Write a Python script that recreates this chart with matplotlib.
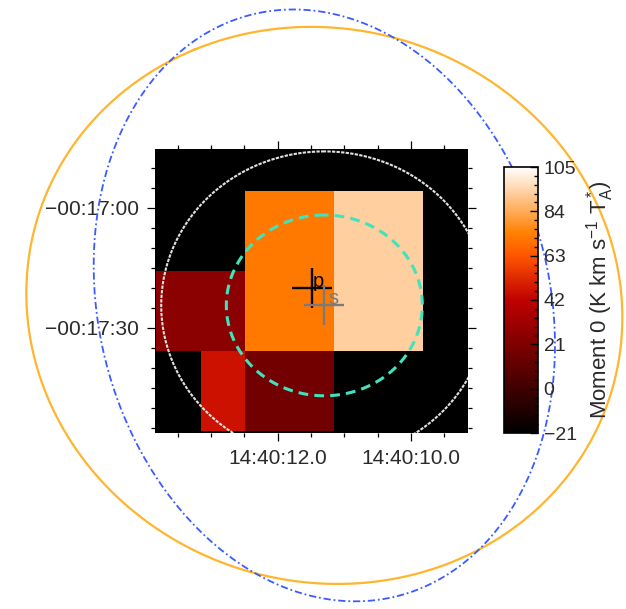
import numpy as np
import matplotlib
matplotlib.use("Agg")
import matplotlib.pyplot as plt
from matplotlib.colors import Normalize
from matplotlib.ticker import FixedLocator, MultipleLocator, FuncFormatter

plt.rcParams['font.family'] = ['Liberation Sans', 'DejaVu Sans']
plt.rcParams['mathtext.fontset'] = 'custom'
plt.rcParams['mathtext.rm'] = 'Liberation Sans'
plt.rcParams['mathtext.it'] = 'Liberation Sans:italic'
plt.rcParams['mathtext.default'] = 'regular'
plt.rcParams['axes.unicode_minus'] = True

# ---------------------------------------------------------------
# Moment-0 map: 10" cells, RA in seconds past 14h40m, Dec in arcsec
# ---------------------------------------------------------------
RA_FIRST_EDGE_S = 14.49        # east edge of first column
DEC_FIRST_EDGE_AS = -995.8     # north edge of first row
CELL_AS = 10.0

nan = np.nan
moment0 = np.array([
    [nan, nan, nan, nan, nan, nan, nan, nan, nan],
    [nan, nan, nan, nan, nan, nan, nan, nan, nan],
    [nan, nan, nan, 72., 72., 93., 93., nan, nan],
    [nan, nan, nan, 72., 72., 93., 93., nan, nan],
    [nan, 25., 25., 72., 72., 93., 93., nan, nan],
    [nan, 25., 25., 72., 72., 93., 93., nan, nan],
    [nan, nan, 46., 17., 17., nan, nan, nan, nan],
    [nan, nan, 46., 17., 17., nan, nan, nan, nan],
    [nan, nan, nan, nan, nan, nan, nan, nan, nan],
])

cbar_min, cbar_max = -21, 105
cbar_ticks = [-21, 0, 21, 42, 63, 84, 105]

# Sources (RA s past 14h40m, Dec arcsec)
src_names = ['p', 's']
src_ra_s = [11.49, 11.30]
src_dec_as = [-1040.0, -1044.4]
src_colors = ['black', '#7a7a7a']

# Apertures / footprints centred on source s: (major", minor", PA deg)
ring_major = [22.6, 38.5, 70.3, 74.6]
ring_minor = [22.05, 36.7, 66.35, 51.0]
ring_pa = [0.0, 0.0, 24.6, 10.15]
ring_colors = ['#3fe3be', '#e2e2e2', '#ffb52e', '#3a5bff']
ring_styles = [(0, (3.2, 2.0)), (0, (1.6, 0.6)), '-', (0, (4.0, 1.6, 1.0, 1.6))]
ring_widths = [2.2, 1.5, 1.6, 1.3]
ring_inside = [True, True, False, False]

# Axis extents
ra_lim = (13.84, 9.145)
dec_lim = (-1076.3, -1005.3)
ra_major = [12.0, 10.0]
dec_major = [-1020.0, -1050.0]

# ---------------------------------------------------------------
fig = plt.figure(figsize=(6.26, 6.09), dpi=100)
ax = fig.add_axes([155/626, 1 - 433/609, 313/626, 284/609])
cax = fig.add_axes([504/626, 1 - 433/609, 34/626, 266/609])

nrow, ncol = moment0.shape
ra_edges = RA_FIRST_EDGE_S - np.arange(ncol + 1) * CELL_AS / 15.0
dec_edges = DEC_FIRST_EDGE_AS - np.arange(nrow + 1) * CELL_AS

cmap = plt.get_cmap('gist_heat').copy()
cmap.set_bad('black')
norm = Normalize(vmin=cbar_min, vmax=cbar_max)
ax.set_facecolor('black')
mesh = ax.pcolormesh(ra_edges, dec_edges, np.ma.masked_invalid(moment0),
                     cmap=cmap, norm=norm, shading='flat', zorder=1)

ax.set_xlim(*ra_lim)
ax.set_ylim(*dec_lim)
ax.set_aspect('auto')

# rings
t = np.linspace(0, 2 * np.pi, 1441)
ra0, dec0 = src_ra_s[1], src_dec_as[1]
for a, b, pa, c, ls, lw, inside in zip(ring_major, ring_minor, ring_pa,
                                        ring_colors, ring_styles, ring_widths,
                                        ring_inside):
    p = np.radians(pa)
    u = a * np.cos(t)
    v = b * np.sin(t)
    north = u * np.cos(p) - v * np.sin(p)
    east = u * np.sin(p) + v * np.cos(p)
    ax.plot(ra0 + east / 15.0, dec0 + north, color=c, ls=ls, lw=lw,
            clip_on=inside, zorder=3 if inside else 6)

# source crosses and labels
for name, ra, dec, c in zip(src_names, src_ra_s, src_dec_as, src_colors):
    ax.plot([ra], [dec], marker='+', ms=29, mew=1.7, color=c, zorder=4)
    off = (0.8, 0.5) if name == 'p' else (2.8, 1.2)
    ax.annotate(name, (ra, dec), xytext=off, textcoords='offset points',
                ha='left', va='baseline', fontsize=14.5, color=c, zorder=5)

# axes formatting
def fmt_ra(x, pos):
    return '14:40:%04.1f' % x

def fmt_dec(y, pos):
    sign = '\u2212' if y < 0 else '+'
    s = abs(y)
    d = int(s // 3600)
    m = int((s - d * 3600) // 60)
    sec = s - d * 3600 - m * 60
    return '%s%02d:%02d:%02d' % (sign, d, m, round(sec))

ax.xaxis.set_major_locator(FixedLocator(ra_major))
ax.xaxis.set_minor_locator(MultipleLocator(0.5))
ax.yaxis.set_major_locator(FixedLocator(dec_major))
ax.yaxis.set_minor_locator(MultipleLocator(5))
ax.xaxis.set_major_formatter(FuncFormatter(fmt_ra))
ax.yaxis.set_major_formatter(FuncFormatter(fmt_dec))
ax.tick_params(which='both', direction='out', top=True, right=True,
               color='black', width=0.9, labelsize=15, labelcolor='#2a2a2a')
ax.tick_params(which='major', length=5.5, pad=6)
ax.tick_params(which='minor', length=3)
for sp in ax.spines.values():
    sp.set_visible(False)

# colorbar
cb = fig.colorbar(mesh, cax=cax, ticks=cbar_ticks)
cb.outline.set_edgecolor('black')
cb.outline.set_linewidth(1.2)
cax.yaxis.set_minor_locator(FixedLocator(np.arange(cbar_min, cbar_max + 0.1, 4.2)))
cax.tick_params(which='both', direction='in', right=True, left=False,
                color='black', width=1.0, labelsize=14, labelcolor='#2a2a2a', pad=4)
cax.tick_params(which='major', length=6)
cax.tick_params(which='minor', length=3)
cb.set_label(r'Moment 0 (K km s$^{-1}$ T$_A^*$)', fontsize=16,
             color='#2a2a2a', labelpad=5)

fig.savefig('out.png', dpi=100)
